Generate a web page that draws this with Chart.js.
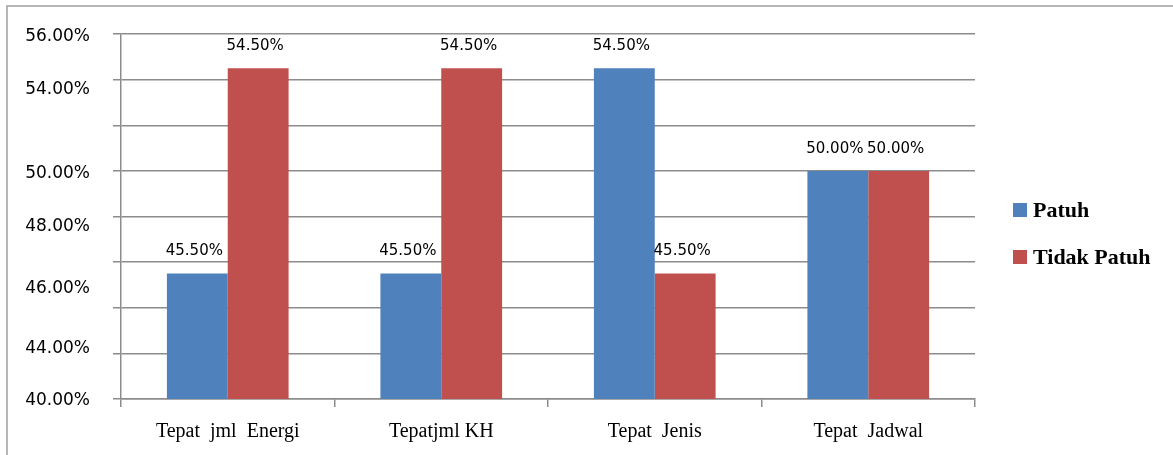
<!DOCTYPE html>
<html>
<head>
<meta charset="utf-8">
<script src="https://cdn.jsdelivr.net/npm/chart.js@4"></script>
<style>
    html, body { margin: 0; padding: 0; background: #ffffff; }
    #wrap { width: 1173px; height: 455px; }
</style>
</head>
<body>
<div id="wrap"><canvas id="chart" width="1173" height="455"></canvas></div>
<script>
// data
const categories = ['Tepat  jml  Energi', 'Tepatjml KH', 'Tepat  Jenis', 'Tepat  Jadwal'];
const patuh = [45.5, 45.5, 54.5, 50.0];
const tidakPatuh = [54.5, 54.5, 45.5, 50.0];

// y axis labels as printed (they sit slightly off the grid lines in the original)
const yLabelText = ['56.00%', '54.00%', '50.00%', '48.00%', '46.00%', '44.00%', '40.00%'];
const yLabelValue = [55.9, 53.55, 49.9, 47.55, 44.85, 42.2, 39.95];

const blue = '#4f81bd';
const red = '#c0504d';
const gridColor = '#8c8c8c';

// frame round the whole chart
const framePlugin = {
    id: 'frame',
    beforeDraw(chart) {
        const ctx = chart.ctx;
        ctx.save();
        ctx.fillStyle = '#ffffff';
        ctx.fillRect(0, 0, chart.width, chart.height);
        ctx.strokeStyle = '#a0a0a0';
        ctx.lineWidth = 1.5;
        ctx.strokeRect(7, 6, chart.width + 20, chart.height + 20);
        ctx.restore();
    }
};

// value labels over bars, y labels and legend
const labelPlugin = {
    id: 'labels',
    afterDatasetsDraw(chart) {
        const ctx = chart.ctx;
        ctx.save();
        ctx.fillStyle = '#000000';
        ctx.font = '15px "DejaVu Sans"';
        ctx.textAlign = 'center';
        ctx.textBaseline = 'middle';
        chart.data.datasets.forEach((ds, i) => {
            chart.getDatasetMeta(i).data.forEach((bar, j) => {
                ctx.fillText(ds.data[j].toFixed(2) + '%', bar.x - 3, bar.y - 22);
            });
        });

        // y labels
        const y = chart.scales.y;
        ctx.font = '17px "DejaVu Sans"';
        ctx.textAlign = 'right';
        yLabelText.forEach((t, i) => {
            ctx.fillText(t, y.right - 31, y.getPixelForValue(yLabelValue[i]));
        });

        // legend
        const area = chart.chartArea;
        const midY = (area.top + area.bottom) / 2 + 17;
        ctx.font = 'bold 22px "Liberation Serif"';
        ctx.textAlign = 'left';
        chart.data.datasets.forEach((ds, i) => {
            const cy = midY + (i - 0.5) * 47;
            ctx.fillStyle = ds.backgroundColor;
            ctx.fillRect(area.right + 38, cy - 7, 14, 14);
            ctx.fillStyle = '#000000';
            ctx.fillText(ds.label, area.right + 58, cy + 1);
        });
        ctx.restore();
    }
};

new Chart(document.getElementById('chart'), {
    type: 'bar',
    data: {
        labels: categories,
        datasets: [{
            label: 'Patuh',
            data: patuh,
            backgroundColor: blue,
            categoryPercentage: 0.57,
            barPercentage: 1.0
        }, {
            label: 'Tidak Patuh',
            data: tidakPatuh,
            backgroundColor: red,
            categoryPercentage: 0.57,
            barPercentage: 1.0
        }]
    },
    options: {
        responsive: false,
        animation: false,
        layout: {
            padding: { top: 34, right: 198, bottom: 0, left: 0 }
        },
        plugins: {
            legend: { display: false },
            tooltip: { enabled: false },
            title: { display: false }
        },
        scales: {
            x: {
                grid: {
                    display: true,
                    drawOnChartArea: false,
                    drawTicks: true,
                    tickLength: 8,
                    color: gridColor,
                    lineWidth: 1.5
                },
                border: { display: true, color: gridColor, width: 1.5 },
                ticks: {
                    color: '#000000',
                    font: { family: '"Liberation Serif"', size: 20 },
                    padding: 13,
                    maxRotation: 0
                },
                afterFit: function(scale) {
                    scale.height = 56;
                }
            },
            y: {
                min: 40,
                max: 56,
                ticks: {
                    stepSize: 2,
                    callback: () => ''
                },
                grid: {
                    color: gridColor,
                    lineWidth: 1.5,
                    tickLength: 8
                },
                border: { display: true, color: gridColor, width: 1.5 },
                afterFit: function(scale) {
                    scale.width = 121;
                }
            }
        }
    },
    plugins: [framePlugin, labelPlugin]
});
</script>
</body>
</html>
